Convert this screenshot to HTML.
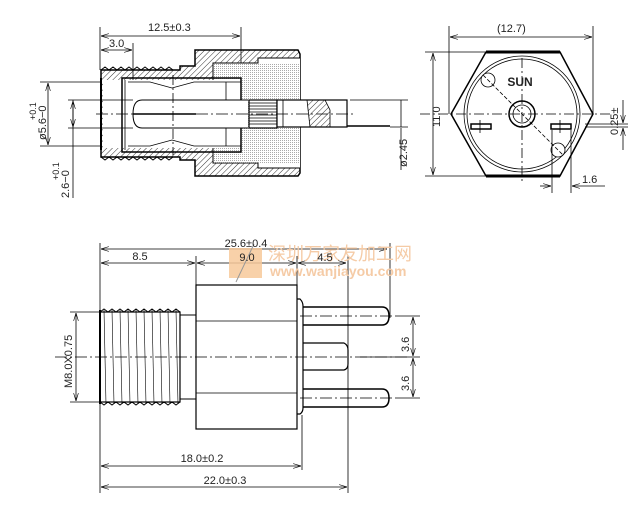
<!DOCTYPE html>
<html><head><meta charset="utf-8"><style>
html,body{margin:0;padding:0;background:#fff;}
svg{display:block;}
text{font-family:"Liberation Sans",sans-serif;fill:#222;}
</style></head><body>
<svg width="641" height="510" viewBox="0 0 641 510" xmlns="http://www.w3.org/2000/svg">
<defs>
<pattern id="h" width="4" height="4" patternUnits="userSpaceOnUse" patternTransform="rotate(45)"><line x1="0" y1="0" x2="0" y2="4" stroke="#333" stroke-width="1"/></pattern>
<pattern id="d" width="2" height="2" patternUnits="userSpaceOnUse"><rect width="1" height="1" fill="#aaa"/></pattern>
<marker id="a" viewBox="0 0 10 6" refX="10" refY="3" markerWidth="10" markerHeight="6" orient="auto-start-reverse"><path d="M0,0 L10,3 L0,6" fill="none" stroke="#000" stroke-width="0.8"/></marker>
</defs>
<g stroke="#000" fill="none" stroke-width="0.8">
<!-- ===== top-left section view ===== -->
<line x1="100" y1="27" x2="100" y2="70"/>
<line x1="241" y1="27" x2="241" y2="80"/>
<line x1="101" y1="36" x2="240" y2="36" marker-start="url(#a)" marker-end="url(#a)"/>
<line x1="133" y1="43" x2="133" y2="120"/>
<line x1="101" y1="50" x2="132" y2="50" marker-start="url(#a)" marker-end="url(#a)"/>
<!-- threaded barrel hatched -->
<path d="M101,70 L180,70 L180,66 L195,66 L195,50 L298,50 L300,54 L300,173 L298,176 L195,176 L195,160 L180,160 L180,157 L101,157 Z" fill="url(#h)" stroke-width="1.5"/>
<path d="M101,70 l4,-3 l4,3 l4,-3 l4,3 l4,-3 l4,3 l4,-3 l4,3 l4,-3 l4,3 l4,-3 l4,3 l4,-3 l4,3 l4,-3 l4,3 l4,-3 l4,3" stroke-width="1"/>
<path d="M101,157 l4,3 l4,-3 l4,3 l4,-3 l4,3 l4,-3 l4,3 l4,-3 l4,3 l4,-3 l4,3 l4,-3 l4,3 l4,-3 l4,3 l4,-3 l4,3 l4,-3" stroke-width="1"/>
<!-- inner cavity white -->
<path d="M103,80 L213,80 L213,63 L258,63 L258,58 L300,58 L300,168 L258,168 L258,163 L213,163 L213,148 L103,148 Z" fill="#fff" stroke="none"/>
<path d="M213,80 L213,63 L258,63 L258,58 L300,58 M213,148 L213,163 L258,163 L258,168 L300,168" stroke-width="1"/>
<rect x="241" y="63" width="59" height="100" fill="url(#d)" stroke="none"/>
<rect x="213" y="64" width="28" height="16" fill="url(#d)" stroke="none"/>
<rect x="213" y="148" width="28" height="15" fill="url(#d)" stroke="none"/>
<line x1="101" y1="78" x2="101" y2="150" stroke-width="2"/>
<!-- contact sleeve -->
<rect x="122" y="78" width="119" height="74" stroke-width="1.5"/>
<line x1="125" y1="80" x2="125" y2="150"/>
<path d="M128,82 L150,82 L172,88 L194,82 L241,82" stroke-width="0.8"/>
<path d="M128,146 L150,146 L172,140 L194,146 L241,146" stroke-width="0.8"/>
<line x1="226" y1="82" x2="226" y2="146"/>
<!-- pin -->
<path d="M248,100 L142,100 Q133,100 133,114 Q133,128 142,128 L248,128" fill="#fff" stroke-width="1"/>
<line x1="133" y1="114" x2="196" y2="114" stroke-width="1.5"/>
<rect x="249" y="100" width="28" height="28" fill="#fff" stroke-width="1.2"/>
<g stroke-width="0.7"><line x1="249" y1="103" x2="277" y2="103"/><line x1="249" y1="106" x2="277" y2="106"/><line x1="249" y1="109" x2="277" y2="109"/><line x1="249" y1="112" x2="277" y2="112"/><line x1="249" y1="115" x2="277" y2="115"/><line x1="249" y1="118" x2="277" y2="118"/><line x1="249" y1="121" x2="277" y2="121"/><line x1="249" y1="124" x2="277" y2="124"/></g>
<rect x="277" y="100" width="70" height="27" fill="#fff" stroke-width="1.2"/>
<line x1="283" y1="100" x2="283" y2="127"/>
<path d="M307,100 L325,100 L330,110 L330,127 L310,127 Z" fill="url(#h)"/>
<line x1="347" y1="126" x2="390" y2="126" stroke-width="1.5"/>
<line x1="96" y1="114" x2="356" y2="114" stroke-dasharray="12,3,2,3"/>
<line x1="173" y1="75" x2="173" y2="155" stroke-dasharray="10,3,2,3"/>
<!-- left dims -->
<line x1="40" y1="82" x2="100" y2="82"/><line x1="40" y1="146" x2="100" y2="146"/>
<line x1="48" y1="83" x2="48" y2="145" marker-start="url(#a)" marker-end="url(#a)"/>
<line x1="68" y1="100" x2="133" y2="100"/><line x1="68" y1="128" x2="133" y2="128"/>
<line x1="73" y1="100" x2="73" y2="198"/>
<line x1="73" y1="101" x2="73" y2="127" marker-start="url(#a)" marker-end="url(#a)"/>
<line x1="350" y1="100" x2="408" y2="100"/><line x1="390" y1="127" x2="408" y2="127"/>
<line x1="401" y1="100" x2="401" y2="127"/>
<line x1="401" y1="128" x2="401" y2="170"/>
<!-- ===== hex view ===== -->
<line x1="449" y1="26" x2="449" y2="114"/><line x1="593" y1="26" x2="593" y2="114"/>
<line x1="450" y1="37" x2="592" y2="37" marker-start="url(#a)" marker-end="url(#a)"/>
<path d="M486,52 L560,52 L593,114 L560,176 L486,176 L451,114 Z" stroke-width="1.5" fill="#fff"/>
<line x1="486" y1="52" x2="560" y2="52" stroke-width="3"/><line x1="486" y1="176" x2="560" y2="176" stroke-width="3"/>
<circle cx="522" cy="114" r="58"/><circle cx="522" cy="114" r="55"/>
<circle cx="522" cy="114" r="13" stroke-width="1.5"/><circle cx="522" cy="114" r="9"/>
<circle cx="488" cy="80" r="7" fill="#fff"/><circle cx="558" cy="150" r="7" fill="#fff"/>
<line x1="483" y1="75" x2="563" y2="155" stroke-dasharray="4,2"/>
<line x1="420" y1="114" x2="610" y2="114" stroke-dasharray="10,3,2,3"/>
<line x1="522" y1="58" x2="522" y2="182" stroke-dasharray="10,3,2,3"/>
<rect x="471" y="124" width="20" height="5" stroke-width="1.5"/><line x1="480" y1="120" x2="480" y2="133"/>
<rect x="551" y="124" width="20" height="5" stroke-width="1.5"/><line x1="560" y1="120" x2="560" y2="133"/>
<line x1="425" y1="52" x2="485" y2="52"/><line x1="425" y1="176" x2="485" y2="176"/>
<line x1="433" y1="53" x2="433" y2="175" marker-start="url(#a)" marker-end="url(#a)"/>
<line x1="552" y1="130" x2="552" y2="193"/><line x1="571" y1="130" x2="571" y2="193"/>
<line x1="540" y1="186" x2="551" y2="186" marker-end="url(#a)"/><line x1="605" y1="186" x2="572" y2="186" marker-end="url(#a)"/>
<line x1="585" y1="124" x2="628" y2="124"/><line x1="585" y1="127" x2="628" y2="127"/>
<line x1="623" y1="100" x2="623" y2="123" marker-end="url(#a)"/><line x1="623" y1="150" x2="623" y2="128" marker-end="url(#a)"/>
<!-- ===== bottom view ===== -->
<line x1="100" y1="243" x2="100" y2="493"/>
<line x1="101" y1="249" x2="387" y2="249" marker-start="url(#a)" marker-end="url(#a)"/>
<line x1="390" y1="243" x2="390" y2="318"/>
<line x1="101" y1="263" x2="195" y2="263" marker-start="url(#a)" marker-end="url(#a)"/>
<line x1="197" y1="263" x2="296" y2="263" marker-start="url(#a)" marker-end="url(#a)"/>
<line x1="298" y1="263" x2="346" y2="263" marker-start="url(#a)" marker-end="url(#a)"/>
<line x1="196" y1="256" x2="196" y2="285"/>
<line x1="297" y1="256" x2="297" y2="285"/>
<line x1="348" y1="256" x2="348" y2="493"/>
<line x1="302" y1="415" x2="302" y2="470"/>
<!-- thread -->
<rect x="100" y="312" width="80" height="90" fill="#fff" stroke-width="1.2"/>
<path d="M100,312 l4,-3 l4,3 l4,-3 l4,3 l4,-3 l4,3 l4,-3 l4,3 l4,-3 l4,3 l4,-3 l4,3 l4,-3 l4,3 l4,-3 l4,3 l4,-3 l4,3 l4,-3 l4,3" stroke-width="1"/>
<path d="M100,402 l4,3 l4,-3 l4,3 l4,-3 l4,3 l4,-3 l4,3 l4,-3 l4,3 l4,-3 l4,3 l4,-3 l4,3 l4,-3 l4,3 l4,-3 l4,3 l4,-3 l4,3 l4,-3" stroke-width="1"/>
<g stroke-width="0.6"><line x1="104" y1="310" x2="106" y2="404"/><line x1="112" y1="310" x2="114" y2="404"/><line x1="120" y1="310" x2="122" y2="404"/><line x1="128" y1="310" x2="130" y2="404"/><line x1="136" y1="310" x2="138" y2="404"/><line x1="144" y1="310" x2="146" y2="404"/><line x1="152" y1="310" x2="154" y2="404"/><line x1="160" y1="310" x2="162" y2="404"/><line x1="168" y1="310" x2="170" y2="404"/><line x1="176" y1="310" x2="178" y2="404"/></g>
<line x1="100" y1="310" x2="100" y2="404" stroke-width="2"/>
<rect x="180" y="315" width="16" height="84" stroke-width="1"/>
<rect x="196" y="285" width="101" height="144" fill="#fff" stroke-width="1.2"/>
<line x1="196" y1="321" x2="297" y2="321"/><line x1="196" y1="393" x2="297" y2="393"/>
<path d="M297,299 L300,299 Q303,302 303,306 L303,408 Q303,412 300,414 L297,414" stroke-width="1.2"/>
<path d="M303,307 L382,307 Q389,307 389,316 Q389,325 382,325 L303,325" stroke-width="1.5"/>
<path d="M303,343 L344,343 Q348,345 348,350 L348,364 Q348,369 344,370 L303,370" stroke-width="1.2"/>
<path d="M303,389 L382,389 Q389,389 389,398 Q389,407 382,407 L303,407" stroke-width="1.5"/>
<line x1="55" y1="357" x2="410" y2="357" stroke-dasharray="12,3,2,3"/>
<line x1="300" y1="316" x2="395" y2="316" stroke-dasharray="12,3,2,3"/>
<line x1="300" y1="398" x2="395" y2="398" stroke-dasharray="12,3,2,3"/>
<line x1="395" y1="316" x2="420" y2="316"/><line x1="360" y1="357" x2="420" y2="357"/><line x1="395" y1="398" x2="420" y2="398"/>
<line x1="413" y1="317" x2="413" y2="356" marker-start="url(#a)" marker-end="url(#a)"/>
<line x1="413" y1="358" x2="413" y2="397" marker-start="url(#a)" marker-end="url(#a)"/>
<line x1="70" y1="312" x2="100" y2="312"/><line x1="70" y1="402" x2="100" y2="402"/>
<line x1="76" y1="313" x2="76" y2="401" marker-start="url(#a)" marker-end="url(#a)"/>
<line x1="101" y1="466" x2="301" y2="466" marker-start="url(#a)" marker-end="url(#a)"/>
<line x1="101" y1="487" x2="347" y2="487" marker-start="url(#a)" marker-end="url(#a)"/>
</g>
<!-- watermark -->
<rect x="229" y="248" width="33" height="30" fill="#f7c99a" opacity="0.85"/>
<line x1="254" y1="244" x2="236" y2="282" stroke="#999" stroke-width="1"/>
<text x="268" y="260" font-size="18" style="font-family:'Liberation Sans','Noto Sans CJK SC',sans-serif;fill:#f5cba6">深圳万家友加工网</text>
<text x="270" y="276" font-size="14" font-weight="bold" style="fill:#f5cba6">www.wanjiayou.com</text>
<!-- labels -->
<g font-size="11">
<text x="148" y="31">12.5±0.3</text>
<text x="109" y="47">3.0</text>
<text x="497" y="32">(12.7)</text>
<text x="582" y="183">1.6</text>
<text x="140" y="260" text-anchor="middle">8.5</text>
<text x="247" y="261" text-anchor="middle">9.0</text>
<text x="325" y="261" text-anchor="middle">4.5</text>
<text x="246" y="247" text-anchor="middle">25.6±0.4</text>
<text x="202" y="462" text-anchor="middle">18.0±0.2</text>
<text x="225" y="484" text-anchor="middle">22.0±0.3</text>
<text transform="translate(440,127) rotate(-90)">11.0</text>
<text transform="translate(407,167) rotate(-90)">ø2.45</text>
<text transform="translate(618,135) rotate(-90)">0.25±</text>
<text transform="translate(409,352) rotate(-90)">3.6</text>
<text transform="translate(409,391) rotate(-90)">3.6</text>
<text transform="translate(72,388) rotate(-90)">M8.0X0.75</text>
<text transform="translate(46,140) rotate(-90)">ø5.6−0</text>
<text transform="translate(36,120) rotate(-90)" font-size="9">+0.1</text>
<text transform="translate(69,198) rotate(-90)">2.6−0</text>
<text transform="translate(59,180) rotate(-90)" font-size="9">+0.1</text>
<text x="520" y="86" text-anchor="middle" font-weight="bold" font-size="12">SUN</text>
</g>
</svg>
</body></html>
